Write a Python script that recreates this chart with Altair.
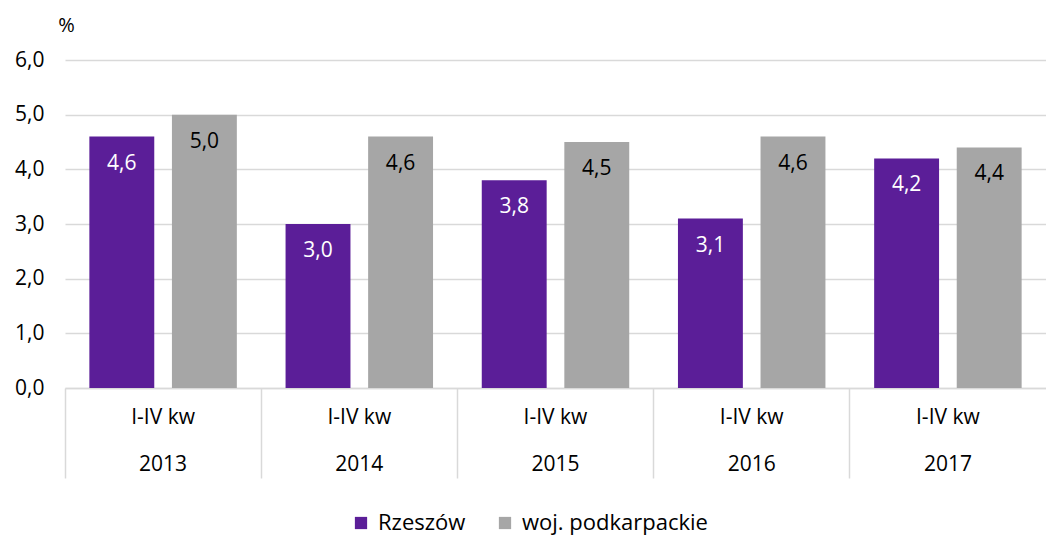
import altair as alt
import pandas as pd

years = ["2013", "2014", "2015", "2016", "2017"]
series = ["Rzeszów", "woj. podkarpackie"]
rzeszow = [4.6, 3.0, 3.8, 3.1, 4.2]
podkarpackie = [5.0, 4.6, 4.5, 4.6, 4.4]
colors = ["#5b1e98", "#a6a6a6"]

rows = []
for i, y in enumerate(years):
    rows.append({"year": y, "series": series[0], "value": rzeszow[i]})
    rows.append({"year": y, "series": series[1], "value": podkarpackie[i]})
df = pd.DataFrame(rows)

FONT = "Open Sans"

x = alt.X(
    "year:N",
    sort=years,
    scale=alt.Scale(paddingInner=0, paddingOuter=0),
    axis=alt.Axis(
        title=None,
        labelAngle=0,
        labelFont=FONT,
        labelFontSize=21,
        labelColor="#000000",
        labelExpr="['I-IV kw', datum.label]",
        labelLineHeight=47,
        labelBaseline="top",
        labelPadding=-72,
        ticks=True,
        tickSize=90,
        tickColor="#d9d9d9",
        tickWidth=1.5,
        bandPosition=0,
        domainColor="#d9d9d9",
        domainWidth=1.5,
        grid=False,
    ),
)
xo = alt.XOffset(
    "series:N",
    sort=series,
    scale=alt.Scale(paddingInner=0.214, paddingOuter=0.295),
)
y = alt.Y(
    "value:Q",
    scale=alt.Scale(domain=[0, 6]),
    axis=alt.Axis(
        values=[0, 1, 2, 3, 4, 5, 6],
        format=".1f",
        labelExpr="replace(datum.label, '.', ',')",
        labelFont=FONT,
        labelFontSize=21,
        labelColor="#000000",
        labelPadding=21,
        ticks=False,
        domain=False,
        grid=True,
        gridColor="#d9d9d9",
        gridWidth=1.5,
        title="%",
        titleFont=FONT,
        titleFontSize=20,
        titleFontWeight="normal",
        titleAngle=0,
        titleAlign="center",
        titleBaseline="middle",
        titleX=1,
        titleY=-35,
    ),
)

base = alt.Chart(df)

bars = base.mark_bar().encode(
    x=x,
    xOffset=xo,
    y=y,
    color=alt.Color(
        "series:N",
        sort=series,
        scale=alt.Scale(domain=series, range=colors),
        legend=alt.Legend(
            title=None,
            orient="none",
            legendX=285,
            legendY=452,
            direction="horizontal",
            symbolType="square",
            symbolSize=150,
            symbolStrokeWidth=0,
            labelFont=FONT,
            labelFontSize=22,
            labelColor="#000000",
            labelOffset=6,
            labelLimit=400,
            columnPadding=28,
        ),
    ),
)

labels = base.mark_text(font=FONT, fontSize=21, baseline="middle", dy=27).transform_calculate(
    lab="replace(format(datum.value, '.1f'), '.', ',')"
).encode(
    x=alt.X("year:N", sort=years),
    xOffset=alt.XOffset("series:N", sort=series),
    y=alt.Y("value:Q"),
    text="lab:N",
    color=alt.condition(alt.datum.series == "Rzeszów", alt.value("#ffffff"), alt.value("#000000")),
)

chart = (
    alt.layer(bars, labels)
    .properties(
        width=981,
        height=328,
        autosize=alt.AutoSizeParams(type="none"),
        padding={"left": 57, "top": 52, "right": 0, "bottom": 148},
    )
    .configure_view(stroke=None)
)

chart.save("out.html", embed_options={"renderer": "svg", "actions": False})
